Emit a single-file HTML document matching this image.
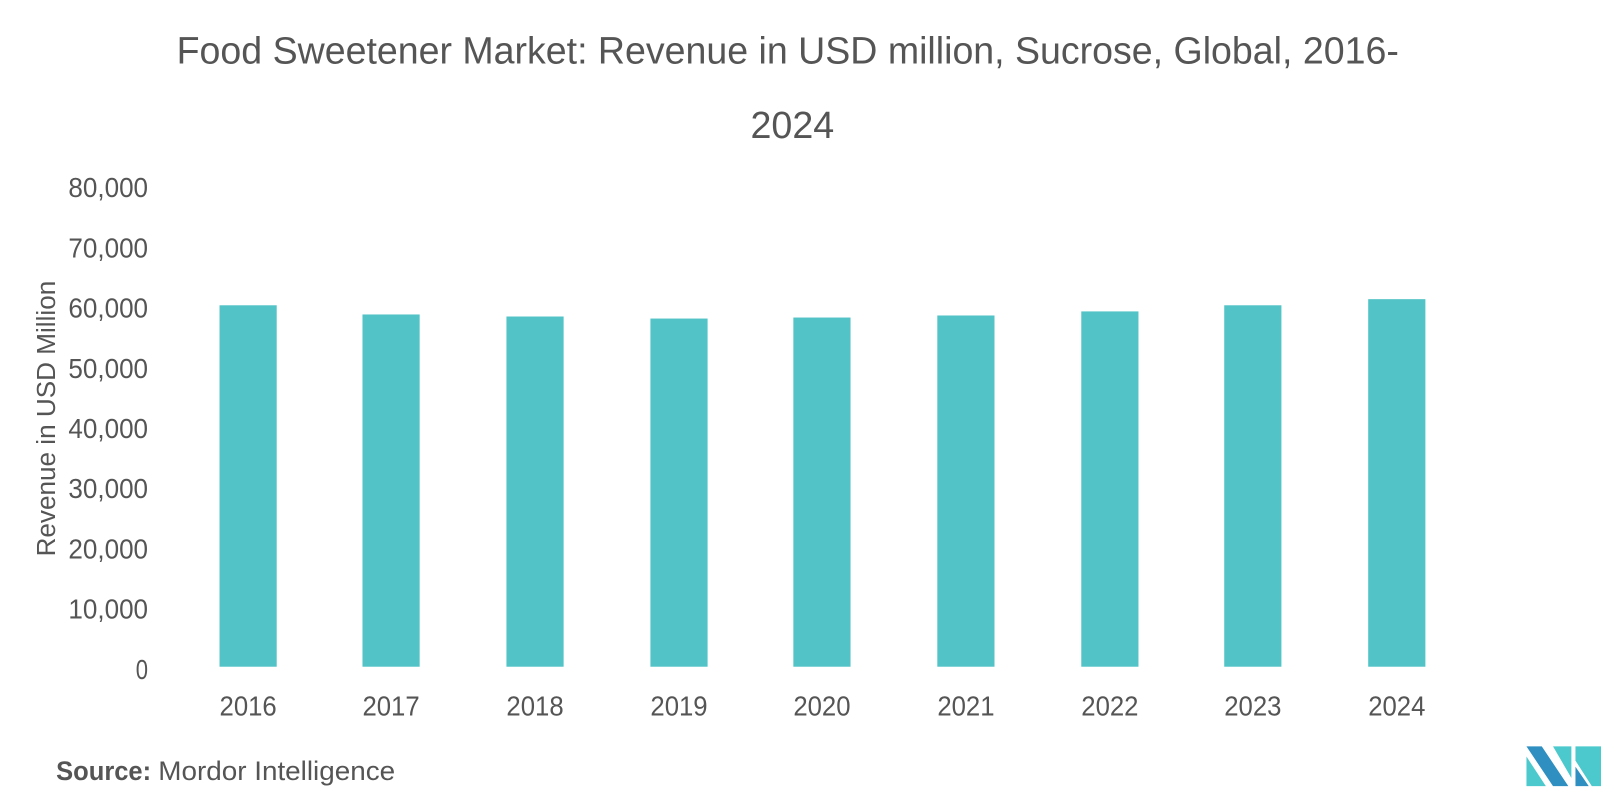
<!DOCTYPE html>
<html><head><style>
body{margin:0;background:#fff;width:1601px;height:807px;overflow:hidden}
svg{display:block}
text{font-family:"Liberation Sans",sans-serif}
</style></head><body>
<svg width="1601" height="807" viewBox="0 0 1568 790.4" preserveAspectRatio="none">
<text x="173" y="62" font-size="37" fill="#555" textLength="1197" lengthAdjust="spacingAndGlyphs">Food Sweetener Market: Revenue in USD million, Sucrose, Global, 2016-</text>
<text x="735" y="135" font-size="37" fill="#555" textLength="82" lengthAdjust="spacingAndGlyphs">2024</text>
<g font-size="27" fill="#555" text-anchor="end">
<text x="145" y="193" textLength="78" lengthAdjust="spacingAndGlyphs">80,000</text>
<text x="145" y="252" textLength="78" lengthAdjust="spacingAndGlyphs">70,000</text>
<text x="145" y="311" textLength="78" lengthAdjust="spacingAndGlyphs">60,000</text>
<text x="145" y="370" textLength="78" lengthAdjust="spacingAndGlyphs">50,000</text>
<text x="145" y="429" textLength="78" lengthAdjust="spacingAndGlyphs">40,000</text>
<text x="145" y="488" textLength="78" lengthAdjust="spacingAndGlyphs">30,000</text>
<text x="145" y="547" textLength="78" lengthAdjust="spacingAndGlyphs">20,000</text>
<text x="145" y="606" textLength="78" lengthAdjust="spacingAndGlyphs">10,000</text>
<text x="145" y="665" textLength="12" lengthAdjust="spacingAndGlyphs">0</text>
</g>
<text transform="translate(54,410) rotate(-90)" font-size="25" fill="#555" text-anchor="middle" textLength="270" lengthAdjust="spacingAndGlyphs">Revenue in USD Million</text>
<g fill="#52c3c6">
<rect x="215" y="299" width="56" height="354"/>
<rect x="355" y="308" width="56" height="345"/>
<rect x="496" y="310" width="56" height="343"/>
<rect x="637" y="312" width="56" height="341"/>
<rect x="777" y="311" width="56" height="342"/>
<rect x="918" y="309" width="56" height="344"/>
<rect x="1059" y="305" width="56" height="348"/>
<rect x="1199" y="299" width="56" height="354"/>
<rect x="1340" y="293" width="56" height="360"/>
</g>
<g font-size="27" fill="#555" text-anchor="middle">
<text x="243" y="701" textLength="56" lengthAdjust="spacingAndGlyphs">2016</text>
<text x="383" y="701" textLength="56" lengthAdjust="spacingAndGlyphs">2017</text>
<text x="524" y="701" textLength="56" lengthAdjust="spacingAndGlyphs">2018</text>
<text x="665" y="701" textLength="56" lengthAdjust="spacingAndGlyphs">2019</text>
<text x="805" y="701" textLength="56" lengthAdjust="spacingAndGlyphs">2020</text>
<text x="946" y="701" textLength="56" lengthAdjust="spacingAndGlyphs">2021</text>
<text x="1087" y="701" textLength="56" lengthAdjust="spacingAndGlyphs">2022</text>
<text x="1227" y="701" textLength="56" lengthAdjust="spacingAndGlyphs">2023</text>
<text x="1368" y="701" textLength="56" lengthAdjust="spacingAndGlyphs">2024</text>
</g>
<text x="55" y="764" font-size="26" fill="#555" font-weight="bold" textLength="93" lengthAdjust="spacingAndGlyphs">Source:</text>
<text x="155" y="764" font-size="26" fill="#555" textLength="232" lengthAdjust="spacingAndGlyphs">Mordor Intelligence</text>
<g>
<polygon points="1495,731 1510,731 1536,770 1521,770" fill="#2e8fc0"/>
<polygon points="1495,741 1514,770 1495,770" fill="#4bc9cc"/>
<polygon points="1521,731 1539,731 1539,762" fill="#4bc9cc"/>
<polygon points="1543,731 1568,731 1568,770 1559,770 1543,745" fill="#4bc9cc"/>
<polygon points="1543,751 1556,770 1543,770" fill="#2e8fc0"/>
</g>
</svg>
</body></html>
